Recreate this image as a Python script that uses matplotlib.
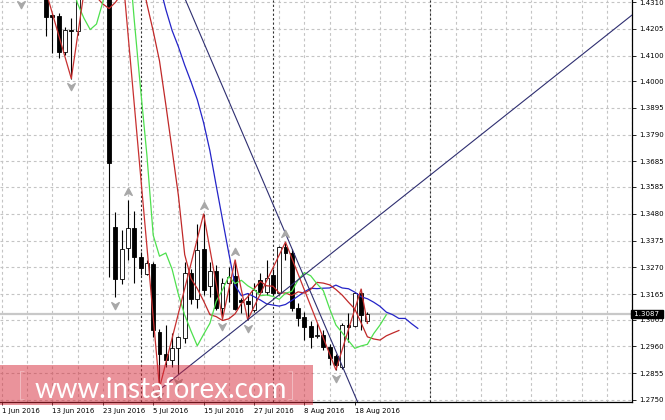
import matplotlib
matplotlib.use('Agg')
import matplotlib.pyplot as plt
import matplotlib.transforms as mtransforms
from matplotlib.path import Path
from matplotlib.patches import Rectangle
import numpy as np
import pandas as pd

# GBP/USD daily, 13 warm-up bars in May (off screen) then 1 Jun .. 22 Aug 2016
warm = 13
dates = pd.bdate_range('2016-05-13', '2016-08-22')

open_ = [1.4435, 1.4365, 1.4395, 1.4450, 1.4580, 1.4610, 1.4500, 1.4480, 1.4575, 1.4680, 1.4680, 1.4615, 1.4640,
         1.4480, 1.4420, 1.4432, 1.4450, 1.4410, 1.4505, 1.4485,
         1.4420, 1.4258, 1.4255, 1.4114, 1.4200, 1.4195,
         1.4430, 1.4680, 1.4690, 1.4715, 1.4880,
         1.3428, 1.3224, 1.3346, 1.3424, 1.3311,
         1.3244, 1.3283, 1.3017, 1.2930, 1.2907,
         1.2954, 1.2993, 1.3248, 1.3146, 1.3342,
         1.3197, 1.3256, 1.3111, 1.3209, 1.3236,
         1.3142, 1.3138, 1.3103, 1.3220, 1.3174,
         1.3240, 1.3169, 1.3350, 1.3326, 1.3111,
         1.3075, 1.3040, 1.3001, 1.3005, 1.2958,
         1.2922, 1.2879, 1.3044, 1.3040, 1.3169,
         1.3060]
high = [1.4455, 1.4420, 1.4470, 1.4600, 1.4670, 1.4630, 1.4530, 1.4600, 1.4720, 1.4730, 1.4690, 1.4660, 1.4650,
        1.4492, 1.4470, 1.4530, 1.4482, 1.4510, 1.4520, 1.4505,
        1.4435, 1.4268, 1.4268, 1.4212, 1.4247, 1.4380,
        1.4730, 1.4740, 1.4780, 1.4950, 1.5018,
        1.3487, 1.3416, 1.3534, 1.3491, 1.3330,
        1.3299, 1.3291, 1.3028, 1.3044, 1.3013,
        1.3001, 1.3291, 1.3262, 1.3440, 1.3479,
        1.3290, 1.3279, 1.3228, 1.3271, 1.3299,
        1.3150, 1.3170, 1.3209, 1.3248, 1.3299,
        1.3265, 1.3355, 1.3369, 1.3340, 1.3130,
        1.3095, 1.3060, 1.3052, 1.3024, 1.2970,
        1.2930, 1.3052, 1.3091, 1.3173, 1.3185,
        1.3095]
low = [1.4330, 1.4340, 1.4380, 1.4430, 1.4560, 1.4480, 1.4430, 1.4440, 1.4570, 1.4640, 1.4580, 1.4590, 1.4460,
       1.4370, 1.4362, 1.4385, 1.4333, 1.4400, 1.4460, 1.4390,
       1.4177, 1.4110, 1.4091, 1.4102, 1.4010, 1.4180,
       1.4420, 1.4620, 1.4600, 1.4710, 1.3232,
       1.3154, 1.3205, 1.3299, 1.3209, 1.3240,
       1.3238, 1.2997, 1.2797, 1.2879, 1.2881,
       1.2852, 1.2974, 1.3125, 1.3110, 1.3162,
       1.3154, 1.3103, 1.3068, 1.3133, 1.3103,
       1.3090, 1.3064, 1.3095, 1.3166, 1.3162,
       1.3160, 1.3160, 1.3300, 1.3100, 1.3040,
       1.2985, 1.2954, 1.2993, 1.2946, 1.2887,
       1.2868, 1.2872, 1.2977, 1.3036, 1.3024,
       1.3050]
close = [1.4365, 1.4395, 1.4450, 1.4580, 1.4610, 1.4500, 1.4480, 1.4575, 1.4680, 1.4680, 1.4615, 1.4640, 1.4485,
         1.4420, 1.4432, 1.4518, 1.4410, 1.4505, 1.4485, 1.4420,
         1.4251, 1.4250, 1.4114, 1.4200, 1.4195, 1.4360,
         1.4680, 1.4690, 1.4715, 1.4880, 1.3679,
         1.3224, 1.3342, 1.3424, 1.3311, 1.3267,
         1.3287, 1.3024, 1.2930, 1.2907, 1.2954,
         1.2997, 1.3248, 1.3146, 1.3338, 1.3181,
         1.3256, 1.3111, 1.3209, 1.3232, 1.3107,
         1.3134, 1.3126, 1.3181, 1.3174, 1.3228,
         1.3169, 1.3350, 1.3326, 1.3111, 1.3071,
         1.3036, 1.2997, 1.3005, 1.2958, 1.2915,
         1.2887, 1.3044, 1.3036, 1.3169, 1.3083,
         1.3087]

bid = 1.3087
yticks = [1.4310, 1.4205, 1.4100, 1.4000, 1.3895, 1.3790, 1.3685, 1.3585,
          1.3480, 1.3375, 1.3270, 1.3165, 1.3065, 1.2960, 1.2855, 1.2750]

# zigzag swing points (bar index, high/low)
zigzag = [(5, 'H'), (11, 'L'), (17, 'H'), (25, 'L'), (32, 'H'), (35, 'L'), (37, 'H'),
          (39, 'L'), (45, 'H'), (53, 'L'), (57, 'H'), (58, 'L')]
# hand drawn trend lines: (bar, price) anchors
trend_up = [(25, 1.2790), (100, 1.4259)]
trend_down = [(17, 1.5018), (60, 1.2537)]
separators = [22, 43, 68]

o = np.array(open_); h = np.array(high); l = np.array(low); c = np.array(close)
idx = np.arange(len(c)) - warm

fig = plt.figure(figsize=(6.65, 4.2), dpi=100)
ax = fig.add_axes([0, 18 / 420, 632 / 665, 402 / 420])
ax.set_xlim(-0.317, 100)
ax.set_ylim(1.2742, 1.4318)

gridc = '#c4c4c4'
ax.set_axisbelow(True)
ax.set_yticks(yticks)
ax.set_yticklabels(['%.4f' % v for v in yticks])
ax.yaxis.grid(True, color=gridc, linestyle=(0, (2.5, 2.5)), lw=0.8)
major = list(range(0, 57, 8))
ax.set_xticks(major)
ax.set_xticklabels(['%d %s' % (dates[warm + i].day, dates[warm + i].strftime('%b %Y')) for i in major],
                   ha='left')
for xv in range(0, 101, 4):
    ax.axvline(xv, color=gridc, linestyle=(0, (2.5, 2.5)), lw=0.8, zorder=0.5)
for xv in separators:
    ax.axvline(xv, color='#333333', linestyle=(0, (2, 2)), lw=0.8, zorder=0.6)

ax.tick_params(axis='y', right=True, left=False, labelright=True, labelleft=False,
               length=3, pad=2, labelsize=5.0, width=0.6)
ax.tick_params(axis='x', length=2, pad=2, labelsize=5.0, width=0.6)
for s in ['top', 'left']:
    ax.spines[s].set_visible(False)
for s in ['right', 'bottom']:
    ax.spines[s].set_linewidth(0.9)

# bid line
ax.axhline(bid, color='#c8c8c8', lw=1.6, zorder=1)

# candles
ax.vlines(idx, l, h, color='black', lw=0.8, zorder=2)
up = c >= o
ax.bar(idx[up], (c - o)[up], bottom=o[up], width=0.62, facecolor='white', edgecolor='black', lw=0.6, zorder=2.5)
ax.bar(idx[~up], (o - c)[~up], bottom=c[~up], width=0.62, facecolor='black', edgecolor='black', lw=0.6, zorder=2.5)

# alligator style moving averages on close
cs = pd.Series(c)
jaw = cs.rolling(13).mean()
teeth = cs.rolling(8).mean()
lips = cs.rolling(5).mean()
ax.plot(idx + 8, jaw, color='#2424c8', lw=0.9, zorder=3)
ax.plot(idx + 5, teeth, color='#c02828', lw=0.9, zorder=3)
ax.plot(idx + 3, lips, color='#4ee04e', lw=0.9, zorder=3)

# zigzag
zx = [p[0] for p in zigzag]
zy = [h[warm + p[0]] if p[1] == 'H' else l[warm + p[0]] for p in zigzag]
ax.plot(zx, zy, color='#c83030', lw=0.9, zorder=3)

# trend lines
for tl in (trend_up, trend_down):
    ax.plot([tl[0][0], tl[1][0]], [tl[0][1], tl[1][1]], color='#2e2e70', lw=0.8, zorder=3.2)

# fractals
upv = [(0, 1), (0.9, -0.7), (0, -0.15), (-0.9, -0.7), (0, 1)]
arr_up = Path(upv, [Path.MOVETO, Path.LINETO, Path.LINETO, Path.LINETO, Path.CLOSEPOLY])
arr_dn = Path([(x, -y) for x, y in upv], arr_up.codes)
fu, fd = [], []
for k in range(2, len(c) - 2):
    if h[k] > max(h[k - 2], h[k - 1], h[k + 1], h[k + 2]):
        fu.append(k)
    if l[k] < min(l[k - 2], l[k - 1], l[k + 1], l[k + 2]):
        fd.append(k)
fu = np.array(fu); fd = np.array(fd)
ax.plot(idx[fu], h[fu] + 0.0030, ls='none', marker=arr_up, ms=6, color='#a8a8a8', zorder=3.5)
ax.plot(idx[fd], l[fd] - 0.0030, ls='none', marker=arr_dn, ms=6, color='#a8a8a8', zorder=3.5)

# bid label
tr = mtransforms.blended_transform_factory(ax.transAxes, ax.transData)
ax.text(1.0, bid, ' %.4f ' % bid, transform=tr, ha='left', va='center', color='white', fontsize=5.0,
        bbox=dict(boxstyle='square,pad=0.2', fc='black', ec='black'), clip_on=False, zorder=6)

# watermark
fig.patches.append(Rectangle((0, 15 / 420), 313 / 665, 40 / 420, transform=fig.transFigure,
                             facecolor=(0.84, 0.16, 0.22), alpha=0.5, edgecolor='none', zorder=10))
wm = dict(color='white', va='baseline', family=['Lato', 'DejaVu Sans'], zorder=11)
fig.text(21 / 665, 1 - 396 / 420, '[', ha='center', fontsize=22, fontweight='light', **wm)
fig.text(161 / 665, 1 - 398 / 420, 'www.instaforex.com', ha='center', fontsize=20, **wm)
fig.text(291 / 665, 1 - 396 / 420, ']', ha='center', fontsize=22, fontweight='light', **wm)

fig.savefig('out.png', dpi=100, facecolor='white')
